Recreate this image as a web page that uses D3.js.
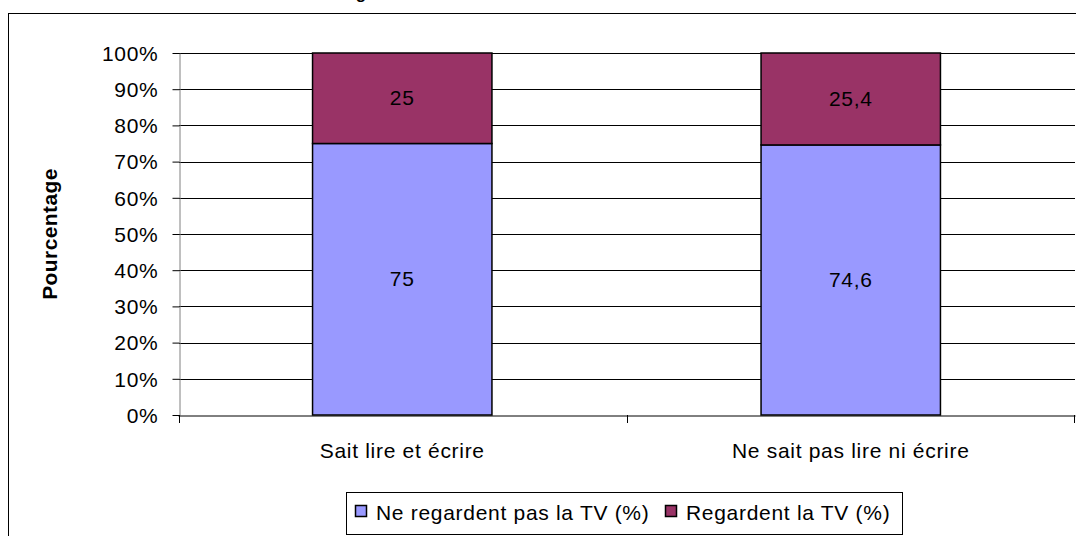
<!DOCTYPE html>
<html>
<head>
<meta charset="utf-8">
<script src="https://cdn.jsdelivr.net/npm/d3@7"></script>
<style>
  body { margin: 0; background: #fff; }
  svg { display: block; font-family: "Liberation Sans", Arial, sans-serif; }
</style>
</head>
<body>
<svg id="chart" width="1076" height="536"></svg>
<script>
const categories = ['Sait lire et écrire', 'Ne sait pas lire ni écrire'];
const seriesNames = ['Ne regardent pas la TV (%)', 'Regardent la TV (%)'];
const notWatching = [75, 74.6];
const watching = [25, 25.4];
const valueLabels = [['75', '25'], ['74,6', '25,4']];
const yTicks = [0, 10, 20, 30, 40, 50, 60, 70, 80, 90, 100];
const colors = ['#9999FF', '#993366'];

const svg = d3.select('#chart');
const margin = { left: 179, right: 1, top: 53, bottom: 121 };
const width = 1076;
const height = 536;
const fontSize = 21;
const spacing = 0.7;

// outer chart frame (partly outside the window)
svg.append('rect')
  .attr('x', 8.5).attr('y', 13.5)
  .attr('width', 1100).attr('height', 600)
  .attr('fill', 'none').attr('stroke', '#000').attr('stroke-width', 1);

// title sits above the window, only the descender shows
svg.append('text')
  .attr('x', 361).attr('y', -1)
  .attr('text-anchor', 'middle')
  .attr('font-size', 17).attr('font-weight', 'bold')
  .text('g');

const xScale = d3.scaleBand()
  .domain(categories)
  .range([margin.left - 1, width - margin.right])
  .paddingInner(0.6)
  .paddingOuter(0.3);

const yScale = d3.scaleLinear()
  .domain([0, 100])
  .range([height - margin.bottom, margin.top]);

// gridlines
svg.append('g')
  .selectAll('line')
  .data(yTicks.filter(d => d > 0))
  .enter().append('line')
  .attr('x1', margin.left).attr('x2', width - margin.right)
  .attr('y1', d => Math.round(yScale(d)) + 0.5)
  .attr('y2', d => Math.round(yScale(d)) + 0.5)
  .attr('stroke', '#000').attr('stroke-width', 1);

// y axis
const yAxis = svg.append('g')
  .attr('transform', `translate(${margin.left + 0.5},0)`)
  .call(d3.axisLeft(yScale).tickValues(yTicks).tickFormat(d => d + '%').tickSize(7).tickSizeOuter(0));
yAxis.select('.domain').attr('stroke', '#808080');
yAxis.selectAll('.tick line').attr('stroke', '#000');
yAxis.selectAll('.tick text')
  .attr('font-size', fontSize).attr('font-family', '"Liberation Sans", Arial, sans-serif')
  .attr('letter-spacing', spacing)
  .attr('fill', '#000').attr('x', -21).attr('dy', '0.35em');

// x axis
const xAxis = svg.append('g')
  .attr('transform', `translate(0,${Math.round(yScale(0)) + 0.5})`)
  .call(d3.axisBottom(xScale).tickSize(0).tickSizeOuter(0));
xAxis.select('.domain').attr('stroke', '#000');
xAxis.selectAll('.tick text')
  .attr('font-size', fontSize).attr('font-family', '"Liberation Sans", Arial, sans-serif')
  .attr('letter-spacing', spacing)
  .attr('fill', '#000').attr('dy', 0).attr('y', 42);

// x tick marks at band boundaries
const boundaries = [margin.left, margin.left + (width - margin.left - margin.right) / 2, width - margin.right - 1];
svg.append('g')
  .selectAll('line')
  .data(boundaries)
  .enter().append('line')
  .attr('x1', d => Math.round(d) + 0.5).attr('x2', d => Math.round(d) + 0.5)
  .attr('y1', yScale(0)).attr('y2', yScale(0) + 8)
  .attr('stroke', '#000');

// stacked bars
const rows = categories.map((c, i) => ({ cat: c, a: notWatching[i], b: watching[i], labels: valueLabels[i] }));
const stack = d3.stack().keys(['a', 'b'])(rows);

const layers = svg.append('g')
  .selectAll('g')
  .data(stack)
  .enter().append('g')
  .attr('fill', (d, i) => colors[i]);

layers.selectAll('rect')
  .data(d => d)
  .enter().append('rect')
  .attr('x', d => xScale(d.data.cat))
  .attr('width', xScale.bandwidth())
  .attr('y', d => yScale(d[1]))
  .attr('height', d => yScale(d[0]) - yScale(d[1]))
  .attr('stroke', '#000').attr('stroke-width', 1.5);

// value labels
stack.forEach((layer, li) => {
  svg.append('g')
    .selectAll('text')
    .data(layer)
    .enter().append('text')
    .attr('x', d => xScale(d.data.cat) + xScale.bandwidth() / 2)
    .attr('y', d => yScale((d[0] + d[1]) / 2) + 7)
    .attr('text-anchor', 'middle')
    .attr('font-size', fontSize)
    .attr('letter-spacing', spacing)
    .attr('fill', '#000')
    .text(d => d.data.labels[li]);
});

// y axis title
svg.append('text')
  .attr('transform', `translate(57,${(yScale(0) + yScale(100)) / 2}) rotate(-90)`)
  .attr('text-anchor', 'middle')
  .attr('font-size', fontSize).attr('font-weight', 'bold')
  .attr('letter-spacing', 0.4)
  .text('Pourcentage');

// legend
const legend = svg.append('g');
legend.append('rect')
  .attr('x', 346.5).attr('y', 492.5)
  .attr('width', 556).attr('height', 42)
  .attr('fill', '#fff').attr('stroke', '#000');

const legendX = [355, 665];
seriesNames.forEach((name, i) => {
  legend.append('rect')
    .attr('x', legendX[i] + 0.5).attr('y', 505.5)
    .attr('width', 11).attr('height', 11)
    .attr('fill', colors[i]).attr('stroke', '#000').attr('stroke-width', 1.5);
  legend.append('text')
    .attr('x', legendX[i] + 21).attr('y', 520)
    .attr('font-size', fontSize).attr('fill', '#000')
    .attr('letter-spacing', spacing)
    .text(name);
});
</script>
</body>
</html>
